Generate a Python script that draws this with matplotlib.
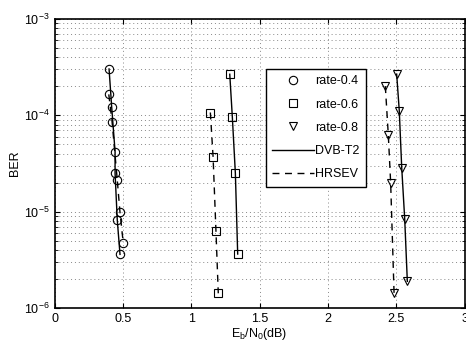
import matplotlib
matplotlib.use('Agg')
import matplotlib.pyplot as plt
import numpy as np

## data
# rate 0.4
ebno_04_dvb = [0.399, 0.418, 0.443, 0.443, 0.459, 0.479]
ber_04_dvb = [3.03e-4, 1.23e-4, 4.2e-5, 2.5e-5, 8.2e-6, 3.6e-6]
ebno_04_hr = [0.397, 0.421, 0.459, 0.479, 0.503]
ber_04_hr = [1.65e-4, 8.6e-5, 2.13e-5, 9.8e-6, 4.7e-6]
# rate 0.6
ebno_06_dvb = [1.282, 1.301, 1.323, 1.340]
ber_06_dvb = [2.67e-4, 9.5e-5, 2.5e-5, 3.63e-6]
ebno_06_hr = [1.140, 1.160, 1.181, 1.198]
ber_06_hr = [1.07e-4, 3.7e-5, 6.3e-6, 1.42e-6]
# rate 0.8
ebno_08_dvb = [2.503, 2.522, 2.540, 2.562, 2.581]
ber_08_dvb = [2.68e-4, 1.12e-4, 2.86e-5, 8.3e-6, 1.89e-6]
ebno_08_hr = [2.420, 2.442, 2.459, 2.484]
ber_08_hr = [2.01e-4, 6.2e-5, 2.0e-5, 1.42e-6]

xticks = [0, 0.5, 1, 1.5, 2, 2.5, 3]
xticklabels = ['0', '0.5', '1', '1.5', '2', '2.5', '3']

plt.rcParams['font.family'] = ['Liberation Sans', 'DejaVu Sans']
plt.rcParams['font.size'] = 9
plt.rcParams['mathtext.fontset'] = 'custom'
plt.rcParams['mathtext.rm'] = 'Liberation Sans'
plt.rcParams['mathtext.it'] = 'Liberation Sans'

fig = plt.figure(figsize=(4.66, 3.46), dpi=100)
ax = fig.add_axes([0.117, 0.110, 0.880, 0.835])

ms = 6
series = [
    (ebno_04_dvb, ber_04_dvb, 'o', '-'),
    (ebno_04_hr, ber_04_hr, 'o', '--'),
    (ebno_06_dvb, ber_06_dvb, 's', '-'),
    (ebno_06_hr, ber_06_hr, 's', '--'),
    (ebno_08_dvb, ber_08_dvb, 'v', '-'),
    (ebno_08_hr, ber_08_hr, 'v', '--'),
]
for x, y, m, ls in series:
    ax.semilogy(x, y, color='black', linestyle=ls, linewidth=1.0, marker=m,
                markersize=ms, markerfacecolor='none', markeredgecolor='black',
                markeredgewidth=0.8, dashes=(5, 4) if ls == '--' else (None, None))

ax.set_xlim(0, 3)
ax.set_ylim(1e-6, 1e-3)
ax.set_xticks(xticks)
ax.set_xticklabels(xticklabels)
gridstyle = dict(linestyle=(0, (1, 3)), color='#888888', linewidth=0.7)
ax.grid(True, which='major', **gridstyle)
ax.grid(True, which='minor', axis='y', **gridstyle)
ax.tick_params(which='both', direction='in', top=True, right=True)
for sp in ax.spines.values():
    sp.set_linewidth(1.2)

ax.set_xlabel('E$_{\\mathregular{b}}$/N$_{\\mathregular{0}}$(dB)', labelpad=1)
ax.set_ylabel('BER', labelpad=2)

# legend with proxies
h = [
    plt.Line2D([], [], linestyle='none', marker='o', color='black', markerfacecolor='none', markersize=ms, markeredgewidth=0.8),
    plt.Line2D([], [], linestyle='none', marker='s', color='black', markerfacecolor='none', markersize=ms, markeredgewidth=0.8),
    plt.Line2D([], [], linestyle='none', marker='v', color='black', markerfacecolor='none', markersize=ms, markeredgewidth=0.8),
    plt.Line2D([], [], linestyle='-', color='black', linewidth=1.0),
    plt.Line2D([], [], linestyle='--', color='black', linewidth=1.0, dashes=(5, 4)),
]
labels = ['rate-0.4', 'rate-0.6', 'rate-0.8', 'DVB-T2', 'HRSEV']
leg = ax.legend(h, labels, loc='upper left', bbox_to_anchor=(0.516, 0.827),
                borderaxespad=0, fancybox=False, framealpha=1, edgecolor='black',
                borderpad=0.5, labelspacing=0.9, handlelength=3.3,
                handletextpad=0.15, fontsize=9)
leg.get_frame().set_linewidth(1.0)

fig.savefig('out.png', dpi=100)
